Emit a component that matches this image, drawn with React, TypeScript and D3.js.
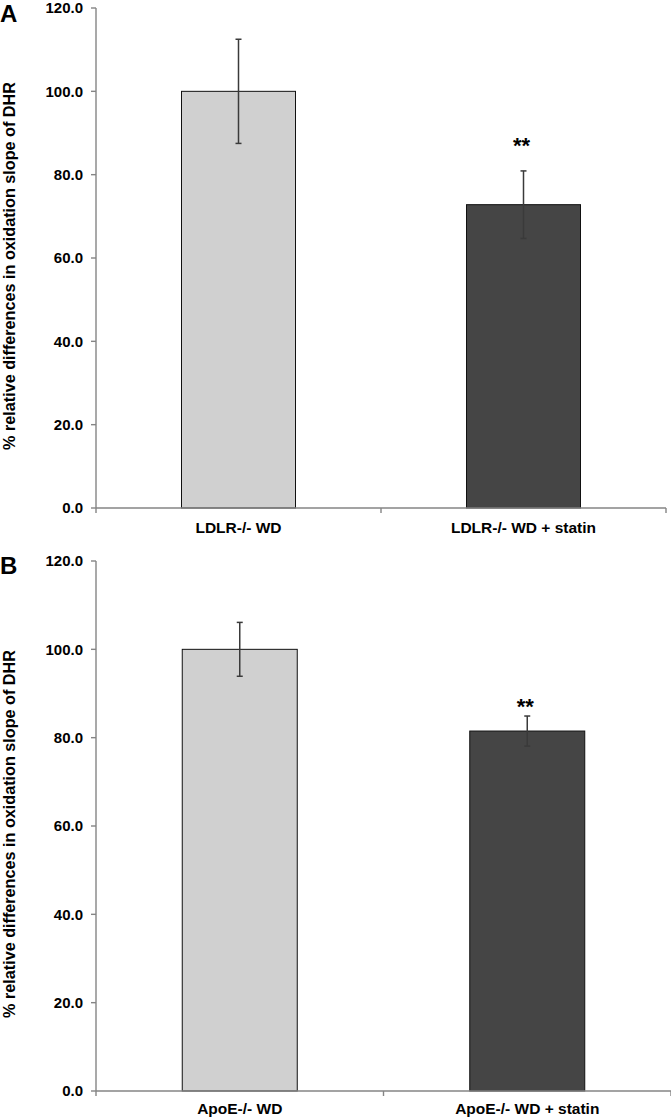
import * as d3 from 'd3';

// values (mean ± error, % of WD control)
const CATEGORIES_A = ['LDLR-/- WD', 'LDLR-/- WD + statin'];
const MEANS_A = [100, 72.8];
const ERRORS_A = [12.5, 8.1];
const SIG_A = ['', '**'];

const CATEGORIES_B = ['ApoE-/- WD', 'ApoE-/- WD + statin'];
const MEANS_B = [100, 81.5];
const ERRORS_B = [6.1, 3.4];
const SIG_B = ['', '**'];

const SIG_LEVEL = [88.5, 88.5];
const Y_TICKS = [0, 20, 40, 60, 80, 100, 120];
const BAR_COLORS = ['#d0d0d0', '#454545'];
const Y_TITLE = '% relative differences in oxidation slope of DHR';

const FONT = '"Liberation Sans", Arial, sans-serif';
const AXIS_COLOR = '#858585';

type PanelProps = {
  letter: string;
  letterY: number;
  categories: string[];
  means: number[];
  errors: number[];
  sig: string[];
  sigLevel: number;
  top: number;
  bottom: number;
  right: number;
  labelGap: number;
};

function Panel({ letter, letterY, categories, means, errors, sig, sigLevel, top, bottom, right, labelGap }: PanelProps) {
  const left = 96;
  const y = d3.scaleLinear().domain([0, 120]).range([bottom, top]);
  const x = d3.scaleBand<string>().domain(categories).range([left, right]).paddingInner(0.6).paddingOuter(0.3);
  const step = x.step();
  const cap = 3;
  const mid = (top + bottom) / 2;

  return (
    <g fontFamily={FONT} fontWeight="bold">
      <text x={0} y={letterY} fontSize={24}>{letter}</text>
      <text
        transform={`translate(15,${mid + 8}) rotate(-90)`}
        textAnchor="middle"
        fontSize={16.2}
      >
        {Y_TITLE}
      </text>

      {/* y axis */}
      <line x1={left} x2={left} y1={top} y2={bottom} stroke={AXIS_COLOR} strokeWidth={1.4} />
      {Y_TICKS.map((t) => (
        <g key={t}>
          <line x1={left - 5} x2={left} y1={y(t)} y2={y(t)} stroke={AXIS_COLOR} strokeWidth={1.4} />
          <text x={83} y={y(t)} dy="0.36em" textAnchor="end" fontSize={15}>
            {t.toFixed(1)}
          </text>
        </g>
      ))}

      {/* bars */}
      {categories.map((c, i) => (
        <rect
          key={c}
          x={x(c)}
          y={y(means[i])}
          width={x.bandwidth()}
          height={y(0) - y(means[i])}
          fill={BAR_COLORS[i]}
          stroke="#111"
          strokeWidth={1}
        />
      ))}

      {/* x axis */}
      <line x1={left} x2={right} y1={bottom} y2={bottom} stroke={AXIS_COLOR} strokeWidth={1.4} />
      {d3.range(categories.length + 1).map((k) => (
        <line
          key={k}
          x1={left + k * step}
          x2={left + k * step}
          y1={bottom}
          y2={bottom + 5}
          stroke={AXIS_COLOR}
          strokeWidth={1.4}
        />
      ))}

      {/* error bars */}
      {categories.map((c, i) => {
        const cx = (x(c) ?? 0) + x.bandwidth() / 2;
        return (
          <g key={c} stroke="#3a3a3a" strokeWidth={1.5}>
            <line x1={cx} x2={cx} y1={y(means[i] + errors[i])} y2={y(means[i] - errors[i])} />
            <line x1={cx - cap} x2={cx + cap} y1={y(means[i] + errors[i])} y2={y(means[i] + errors[i])} />
            <line x1={cx - cap} x2={cx + cap} y1={y(means[i] - errors[i])} y2={y(means[i] - errors[i])} />
          </g>
        );
      })}

      {categories.map((c, i) => {
        const cx = (x(c) ?? 0) + x.bandwidth() / 2;
        return (
          <g key={c}>
            {sig[i] && (
              <text x={cx - 2} y={y(sigLevel)} dy="0.62em" textAnchor="middle" fontSize={22}>
                {sig[i]}
              </text>
            )}
            <text x={cx} y={bottom + labelGap} textAnchor="middle" fontSize={15.5}>
              {c}
            </text>
          </g>
        );
      })}
    </g>
  );
}

export default function App() {
  return (
    <div style={{ position: 'absolute', left: 0, top: 0 }}>
      <svg width={671} height={1120} style={{ display: 'block', background: '#fff' }}>
        <Panel
          letter="A"
          letterY={22}
          categories={CATEGORIES_A}
          means={MEANS_A}
          errors={ERRORS_A}
          sig={SIG_A}
          sigLevel={SIG_LEVEL[0]}
          top={8}
          bottom={508}
          right={666}
          labelGap={25}
        />
        <Panel
          letter="B"
          letterY={574}
          categories={CATEGORIES_B}
          means={MEANS_B}
          errors={ERRORS_B}
          sig={SIG_B}
          sigLevel={SIG_LEVEL[1]}
          top={561}
          bottom={1091}
          right={671}
          labelGap={23}
        />
      </svg>
    </div>
  );
}
